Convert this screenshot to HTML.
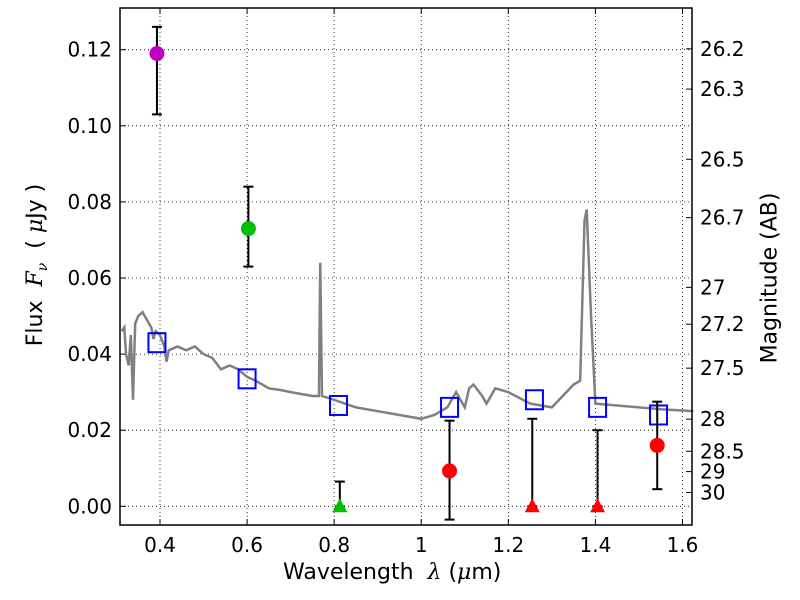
<!DOCTYPE html>
<html><head><meta charset="utf-8"><style>body{margin:0;background:#fff}svg{display:block;font-family:"DejaVu Sans","Liberation Sans",sans-serif}</style></head>
<body>
<svg id="c" width="800" height="600"></svg>
<script>
const specX=[0.312,0.318,0.322,0.328,0.333,0.338,0.343,0.35,0.36,0.37,0.38,0.385,0.39,0.40,0.41,0.415,0.42,0.44,0.46,0.48,0.50,0.52,0.54,0.56,0.58,0.60,0.62,0.65,0.68,0.70,0.75,0.765,0.768,0.772,0.80,0.85,0.90,0.95,1.0,1.03,1.06,1.08,1.10,1.11,1.12,1.14,1.15,1.17,1.20,1.25,1.30,1.35,1.365,1.375,1.38,1.39,1.40,1.45,1.50,1.55,1.625];
const specY=[0.046,0.047,0.040,0.037,0.045,0.028,0.048,0.050,0.051,0.049,0.047,0.044,0.046,0.045,0.042,0.038,0.041,0.042,0.041,0.042,0.040,0.039,0.036,0.037,0.036,0.034,0.033,0.031,0.0305,0.030,0.029,0.029,0.064,0.029,0.028,0.026,0.025,0.024,0.023,0.024,0.026,0.030,0.026,0.031,0.032,0.029,0.027,0.031,0.030,0.027,0.026,0.032,0.033,0.075,0.078,0.050,0.027,0.0265,0.026,0.0255,0.025];
const modelX=[0.393,0.60,0.81,1.065,1.26,1.405,1.545];
const modelY=[0.043,0.0335,0.0265,0.026,0.028,0.026,0.024];
const obsX=[0.393,0.603,0.813,1.065,1.255,1.405,1.542];
const obsY=[0.119,0.073,0,0.0093,0,0,0.016];
const obsLo=[0.103,0.063,0,-0.0035,0,0,0.0045];
const obsHi=[0.126,0.084,0.0065,0.0225,0.023,0.020,0.0275];
const obsColor=['#bf00bf','#00bf00','#00bf00','red','red','red','red'];
const obsShape=['circle','circle','tri','circle','tri','tri','circle'];
const xTicks=[0.4,0.6,0.8,1,1.2,1.4,1.6];
const yTicks=[0,0.02,0.04,0.06,0.08,0.10,0.12];
const yTickLabels=['0.00','0.02','0.04','0.06','0.08','0.10','0.12'];
const magTicks=[26.2,26.3,26.5,26.7,27,27.2,27.5,28,28.5,29,30];

const L=120,R=692,T=8,B=525;
const X=v=>160+(v-0.4)*435.4;
const Y=v=>506.3-v*3805;
const svg=document.getElementById('c');const NS='http://www.w3.org/2000/svg';
function mk(t,a,p){const e=document.createElementNS(NS,t);for(const k in a)e.setAttribute(k,a[k]);(p||svg).appendChild(e);return e;}
xTicks.forEach(v=>{const g=mk('line',{x1:X(v),x2:X(v),y1:T,y2:B,stroke:'#000','stroke-width':0.8,'stroke-dasharray':'1,3'});


mk('line',{x1:X(v),x2:X(v),y1:B,y2:B-6,stroke:'#000'});mk('line',{x1:X(v),x2:X(v),y1:T,y2:T+6,stroke:'#000'});
const t=mk('text',{x:X(v),y:B+27,'text-anchor':'middle','font-size':20});t.textContent=String(v);

});
yTicks.forEach((v,i)=>{const g=mk('line',{x1:L,x2:R,y1:Y(v),y2:Y(v),stroke:'#000','stroke-width':0.8,'stroke-dasharray':'1,3'});


mk('line',{x1:L,x2:L+6,y1:Y(v),y2:Y(v),stroke:'#000'});
const t=mk('text',{x:L-8,y:Y(v)+7,'text-anchor':'end','font-size':20});t.textContent=yTickLabels[i];

});
magTicks.forEach(m=>{const f=Math.pow(10,-(m-23.9)/2.5);const y=Y(f);
mk('line',{x1:R,x2:R-6,y1:y,y2:y,stroke:'#000'});
const t=mk('text',{x:R+8,y:y+7,'font-size':20});t.textContent=String(m);

});
const sp=mk('polyline',{points:specX.map((x,i)=>X(x)+','+Y(specY[i])).join(' '),fill:'none',stroke:'#808080','stroke-width':2.5});


modelX.forEach((x,i)=>{const r=mk('rect',{x:X(x)-8.5,y:Y(modelY[i])-9.5,width:17,height:19,fill:'none',stroke:'#0000ff','stroke-width':2});

});
obsX.forEach((x,i)=>{const cx=X(x);
mk('line',{x1:cx,x2:cx,y1:Y(obsLo[i]),y2:Y(obsHi[i]),stroke:'#000','stroke-width':2});
[obsLo[i],obsHi[i]].forEach(v=>mk('line',{x1:cx-5,x2:cx+5,y1:Y(v),y2:Y(v),stroke:'#000','stroke-width':2}));
let m;const cy=Y(obsY[i]);
if(obsShape[i]==='circle')m=mk('circle',{cx:cx,cy:cy,r:7.5,fill:obsColor[i]});
else m=mk('polygon',{points:`${cx},${cy-8} ${cx-7.5},${cy+6} ${cx+7.5},${cy+6}`,fill:obsColor[i]});

});
const fr=mk('rect',{x:L,y:T,width:R-L,height:B-T,fill:'none',stroke:'#000','stroke-width':1.5});


</script>
<div style="position:absolute;left:0;top:0;width:800px;height:600px;pointer-events:none;font-family:'DejaVu Sans','Liberation Sans',sans-serif">
<div style="position:absolute;left:283px;top:560px;font-size:22px;white-space:nowrap">Wavelength&nbsp; <i style="font-family:'DejaVu Serif',serif">λ</i> (<i style="font-family:'DejaVu Serif',serif">μ</i>m)</div>
<div style="position:absolute;left:37px;top:265px;font-size:22px;white-space:nowrap;transform:translate(-50%,-50%) rotate(-90deg)">Flux&nbsp; <i style="font-family:'DejaVu Serif',serif">F<sub style="font-size:14px">ν</sub></i>&nbsp; ( <i style="font-family:'DejaVu Serif',serif">μ</i>Jy )</div>
<div style="position:absolute;left:770px;top:278px;font-size:22px;white-space:nowrap;transform:translate(-50%,-50%) rotate(-90deg)">Magnitude (AB)</div>
</div>
</body></html>
